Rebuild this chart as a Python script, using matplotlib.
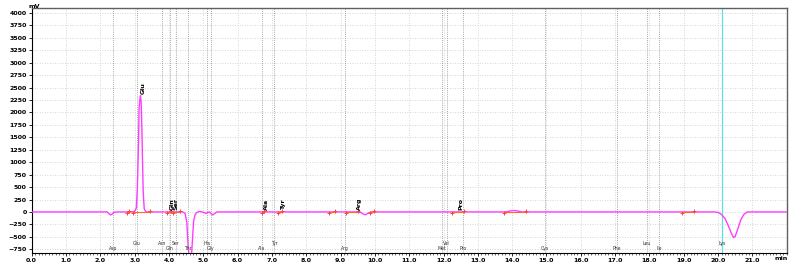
import matplotlib.pyplot as plt
from matplotlib.ticker import MultipleLocator, FormatStrFormatter

# chromatogram trace (min, mV)
t = [0.0, 2.20, 2.26, 2.30, 2.34, 2.40, 2.50, 2.90, 3.00, 3.05, 3.08, 3.11, 3.13, 3.15, 3.17,
     3.19, 3.21, 3.23, 3.25, 3.28, 3.33, 3.50, 4.00, 4.40, 4.47, 4.52, 4.55, 4.58, 4.66, 4.69,
     4.72, 4.76, 4.80, 4.86, 4.92, 4.98, 5.04, 5.08, 5.13, 5.18, 5.24, 5.28, 5.33, 5.40, 6.00,
     9.50, 9.60, 9.68, 9.73, 9.80, 9.90, 13.80, 13.95, 14.05, 14.15, 14.30, 19.90, 20.00,
     20.10, 20.20, 20.30, 20.40, 20.45, 20.50, 20.58, 20.66, 20.75, 20.85, 22.0]
mv = [0, 0, -40, -60, -45, -5, 0, 0, 10, 80, 500, 1300, 2100, 2250, 2340,
      2200, 1700, 1000, 400, 60, 0, 0, 0, 0, -30, -200, -600, -840, -840, -500,
      -180, -60, -20, 5, 10, -5, -15, -30, -10, 0, -40, -60, -30, 0, 0,
      0, -15, -50, -55, -25, 0, 0, 20, 30, 20, 0, 0, -10,
      -50, -130, -280, -450, -515, -490, -330, -160, -50, 0, 0]

# reference component positions and names
ref_t = [2.36, 3.06, 3.79, 4.03, 4.20, 4.56, 5.10, 5.22, 6.70, 7.07, 9.13, 11.96, 12.09,
         12.58, 14.96, 17.05, 17.92, 18.29]
ref_names = ['Asp', 'Glu', 'Asn', 'Gln', 'Ser', 'Thr', 'His', 'Gly', 'Ala', 'Tyr', 'Arg',
             'Met', 'Val', 'Pro', 'Cys', 'Phe', 'Leu', 'Ile']
ref_upper = [False, True, True, False, True, False, True, False, False, True, False,
             False, True, False, False, False, True, False]
lys_t = 20.12

# integration start / end marks
start_t = [2.77, 2.96, 3.93, 4.13, 6.70, 7.17, 8.67, 9.15, 9.86, 12.24, 13.76, 18.94]
start_v = [-30, -30, -30, -30, -30, -30, -30, -30, -30, -30, -30, -30]
end_t = [2.85, 3.45, 4.05, 4.31, 6.78, 7.28, 8.84, 9.52, 9.98, 12.61, 14.40, 19.30]
end_v = [25, 25, 25, 25, 25, 25, 25, 25, 25, 25, 25, 25]

# peak names
peak_t = [3.24, 4.09, 4.21, 6.84, 7.33, 9.56, 12.50]
peak_v = [2380, 30, 30, 30, 30, 30, 30]
peak_names = ['Glu', 'Gln', 'Ser', 'Ala', 'Tyr', 'Arg', 'Pro']

fig = plt.figure(figsize=(8, 2.62), dpi=100)
ax = fig.add_axes([0.0396, 0.0344, 0.9438, 0.9351])

ax.set_xlim(0, 22)
ax.set_ylim(-825, 4100)

ax.grid(True, color='#c8c8c8', linestyle=(0, (1, 2)), linewidth=0.6)
ax.set_axisbelow(True)

for x in ref_t:
    ax.axvline(x, color='#8c8c8c', linestyle=(0, (1, 1.5)), linewidth=0.6, zorder=1)
ax.axvline(lys_t, color='#5ce0e0', linewidth=0.9, zorder=1)

ax.plot(t, mv, color='#ff3cff', linewidth=1.0, zorder=3)

for a, b in zip(start_t, end_t):
    ax.plot([a, b], [0, 0], color='#ff6a2a', linewidth=0.8, zorder=4)
ax.scatter(start_t, start_v, marker='+', s=10, color='#ff4040', linewidths=0.7, zorder=5)
ax.scatter(end_t, end_v, marker='+', s=10, color='#ff4040', linewidths=0.7, zorder=5)

for x, y, name in zip(peak_t, peak_v, peak_names):
    ax.text(x, y, name, rotation=90, fontsize=4.5, fontweight='bold', ha='center',
            va='bottom', zorder=6)

for x, name, up in zip(ref_t + [lys_t], ref_names + ['Lys'], ref_upper + [True]):
    ax.text(x, -690 if up else -780, name, fontsize=3.3, ha='center', va='bottom',
            color='#333333', zorder=6)

ax.xaxis.set_major_locator(MultipleLocator(1))
ax.xaxis.set_minor_locator(MultipleLocator(0.1))
ax.xaxis.set_major_formatter(FormatStrFormatter('%.1f'))
ax.yaxis.set_major_locator(MultipleLocator(250))
ax.tick_params(axis='both', which='major', labelsize=4.5, length=2.5, width=0.6, pad=1)
ax.tick_params(axis='both', which='minor', length=1.2, width=0.4)
ax.set_xticks([x for x in range(0, 22)])
for lab in ax.get_xticklabels() + ax.get_yticklabels():
    lab.set_fontweight('bold')

for side in ['left', 'bottom']:
    ax.spines[side].set_color('black')
    ax.spines[side].set_linewidth(0.8)
for side in ['top', 'right']:
    ax.spines[side].set_color('#606060')
    ax.spines[side].set_linewidth(1.0)

fig.text(0.036, 0.985, 'mV', fontsize=4.5, fontweight='bold', ha='left', va='top')
fig.text(0.968, 0.003, 'min', fontsize=4.5, fontweight='bold', ha='left', va='bottom')

plt.savefig('out.png', dpi=100)
